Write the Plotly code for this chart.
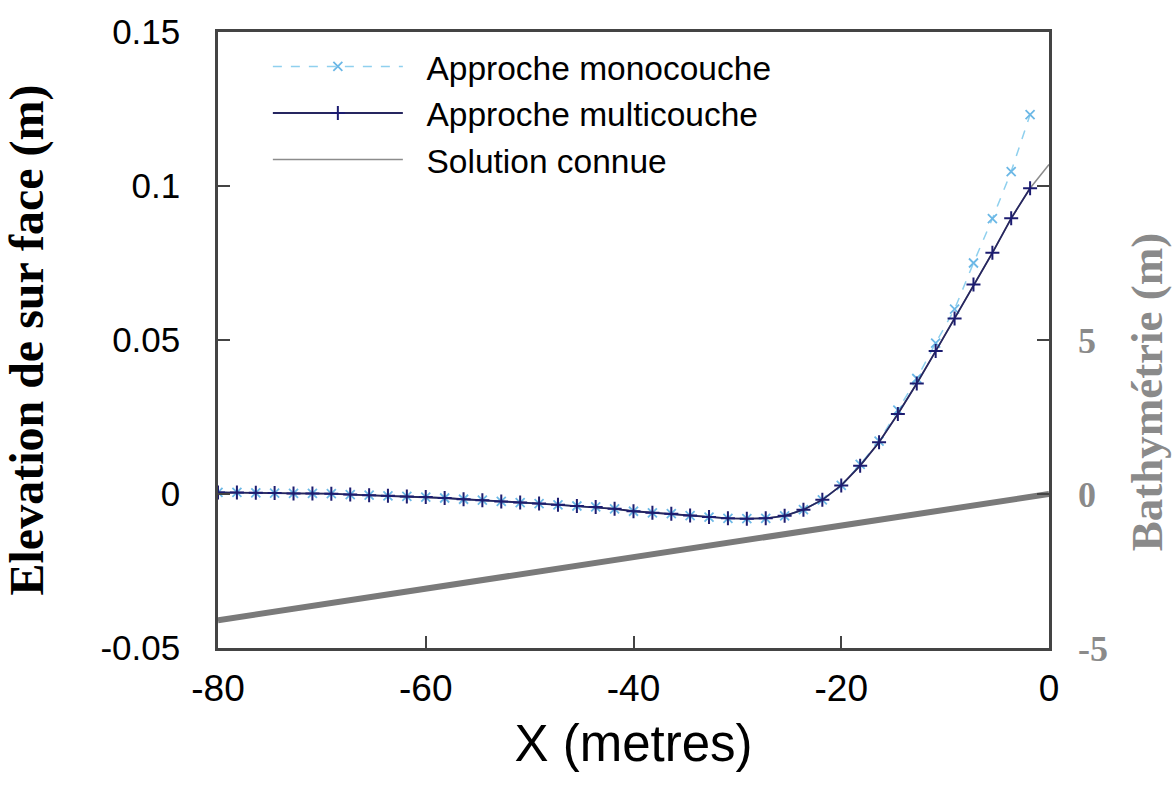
import plotly.graph_objects as go

# ---- data ----
x_pts = [-80.0, -78.18, -76.36, -74.55, -72.73, -70.91, -69.09, -67.27, -65.45, -63.64,
         -61.82, -60.0, -58.18, -56.36, -54.55, -52.73, -50.91, -49.09, -47.27, -45.45,
         -43.64, -41.82, -40.0, -38.18, -36.36, -34.55, -32.73, -30.91, -29.09, -27.27,
         -25.45, -23.64, -21.82, -20.0, -18.18, -16.36, -14.55, -12.73, -10.91, -9.09,
         -7.27, -5.45, -3.64, -1.82]

multicouche = [0.0005, 0.0005, 0.0004, 0.0003, 0.0002, 0.0002, 0.0001, -0.0002, -0.0004, -0.0006,
               -0.0008, -0.0010, -0.0013, -0.0017, -0.0020, -0.0024, -0.0028, -0.0031, -0.0035, -0.0039,
               -0.0042, -0.0048, -0.0056, -0.0061, -0.0064, -0.0070, -0.0075, -0.0079, -0.0080, -0.0079,
               -0.0071, -0.0051, -0.0019, 0.0028, 0.0092, 0.0168, 0.0260, 0.0359, 0.0464, 0.0570,
               0.0680, 0.0783, 0.0895, 0.0993]

monocouche = [0.0005, 0.0005, 0.0004, 0.0003, 0.0002, 0.0002, 0.0001, -0.0002, -0.0004, -0.0006,
              -0.0008, -0.0010, -0.0013, -0.0017, -0.0020, -0.0024, -0.0028, -0.0031, -0.0035, -0.0039,
              -0.0042, -0.0048, -0.0056, -0.0061, -0.0064, -0.0070, -0.0075, -0.0079, -0.0080, -0.0079,
              -0.0071, -0.0051, -0.0019, 0.0028, 0.0096, 0.0172, 0.0272, 0.0375, 0.0490, 0.0600,
              0.0750, 0.0894, 0.1047, 0.1232]

x_sol = x_pts + [0.0]
solution = [0.0005, 0.0005, 0.0004, 0.0003, 0.0002, 0.0002, 0.0001, -0.0002, -0.0004, -0.0006,
            -0.0008, -0.0010, -0.0013, -0.0017, -0.0020, -0.0024, -0.0028, -0.0031, -0.0035, -0.0039,
            -0.0042, -0.0048, -0.0056, -0.0061, -0.0064, -0.0070, -0.0075, -0.0079, -0.0080, -0.0079,
            -0.0071, -0.0051, -0.0019, 0.0028, 0.0092, 0.0168, 0.0260, 0.0359, 0.0464, 0.0570,
            0.0680, 0.0783, 0.0895, 0.0993, 0.1070]

x_bathy = [-80.0, 0.0]
bathy = [-4.1, 0.0]

x_ticks = [-80, -60, -40, -20, 0]
x_tick_text = ["-80", "-60", "-40", "-20", "0"]
y_ticks = [-0.05, 0, 0.05, 0.1, 0.15]
y_tick_text = ["-0.05", "0", "0.05", "0.1", "0.15"]
y2_ticks = [-5, 0, 5]
y2_tick_text = ["-5", "0", "5"]

# ---- figure ----
SANS = "Liberation Sans, Arial, sans-serif"
SERIF = "Liberation Serif, Times New Roman, serif"
PAD = "\u00a0\u00a0"

fig = go.Figure()

fig.add_trace(go.Scatter(
    x=x_bathy, y=bathy, yaxis="y2", mode="lines",
    line=dict(color="#7a7a7a", width=6), showlegend=False))

fig.add_trace(go.Scatter(
    x=x_sol, y=solution, mode="lines", name=PAD + "Solution connue",
    line=dict(color="#8c8c8c", width=1.5), legendrank=3))

fig.add_trace(go.Scatter(
    x=x_pts, y=monocouche, mode="lines+markers", name=PAD + "Approche monocouche",
    line=dict(color="#8fd0ee", width=1.5, dash="dash"),
    marker=dict(symbol="x-thin", size=9, color="#6cb8e6",
                line=dict(color="#6cb8e6", width=1.8)), legendrank=1))

fig.add_trace(go.Scatter(
    x=x_pts, y=multicouche, mode="lines+markers", name=PAD + "Approche multicouche",
    line=dict(color="#262660", width=1.8),
    marker=dict(symbol="cross-thin", size=10, color="#1c1c70",
                line=dict(color="#1c1c70", width=2)), legendrank=2))

fig.update_layout(
    width=1174, height=795,
    margin=dict(l=218, r=125, t=30, b=147),
    paper_bgcolor="white", plot_bgcolor="white",
    font=dict(family=SANS, color="black"),
    xaxis=dict(
        range=[-80, 0], tickvals=x_ticks, ticktext=x_tick_text,
        ticks="inside", ticklen=12, tickcolor="#444", tickwidth=1.5,
        showline=True, linecolor="#444", linewidth=2.5, mirror=True,
        showgrid=False, zeroline=False,
        tickfont=dict(family=SANS, size=37, color="black"),
        ticklabelstandoff=6,
        title=dict(text="X (metres)", font=dict(family=SANS, size=51, color="black"),
                   standoff=18),
    ),
    yaxis=dict(
        range=[-0.05, 0.15], tickvals=y_ticks, ticktext=y_tick_text,
        ticks="inside", ticklen=12, tickcolor="#444", tickwidth=1.5,
        showline=True, linecolor="#444", linewidth=2.5, mirror="ticks",
        showgrid=False, zeroline=False,
        tickfont=dict(family=SANS, size=35, color="black"),
        ticklabelstandoff=28,
        title=dict(text="<b>Elevation de sur face (m)</b>",
                   font=dict(family=SERIF, size=48, color="black"), standoff=48),
    ),
    yaxis2=dict(
        overlaying="y", side="right", range=[-5, 15],
        tickvals=y2_ticks, ticktext=y2_tick_text,
        ticks="", showline=False, showgrid=False, zeroline=False,
        tickfont=dict(family=SERIF, size=36, color="#8a8a8a", weight="bold"),
        ticklabelstandoff=28,
    ),
    annotations=[dict(
        text="<b>Bathymétrie (m)</b>", xref="paper", yref="paper",
        x=1.0, xshift=98, y=0.415, xanchor="center", yanchor="middle",
        textangle=-90, showarrow=False,
        font=dict(family=SERIF, size=45, color="#8a8a8a"),
    )],
    legend=dict(
        x=0.06, y=0.99, xanchor="left", yanchor="top",
        bgcolor="rgba(0,0,0,0)", borderwidth=0,
        font=dict(family=SANS, size=33.5, color="black"),
        itemwidth=130, tracegroupgap=0,
    ),
    showlegend=True,
)

fig.write_html("out.html")
